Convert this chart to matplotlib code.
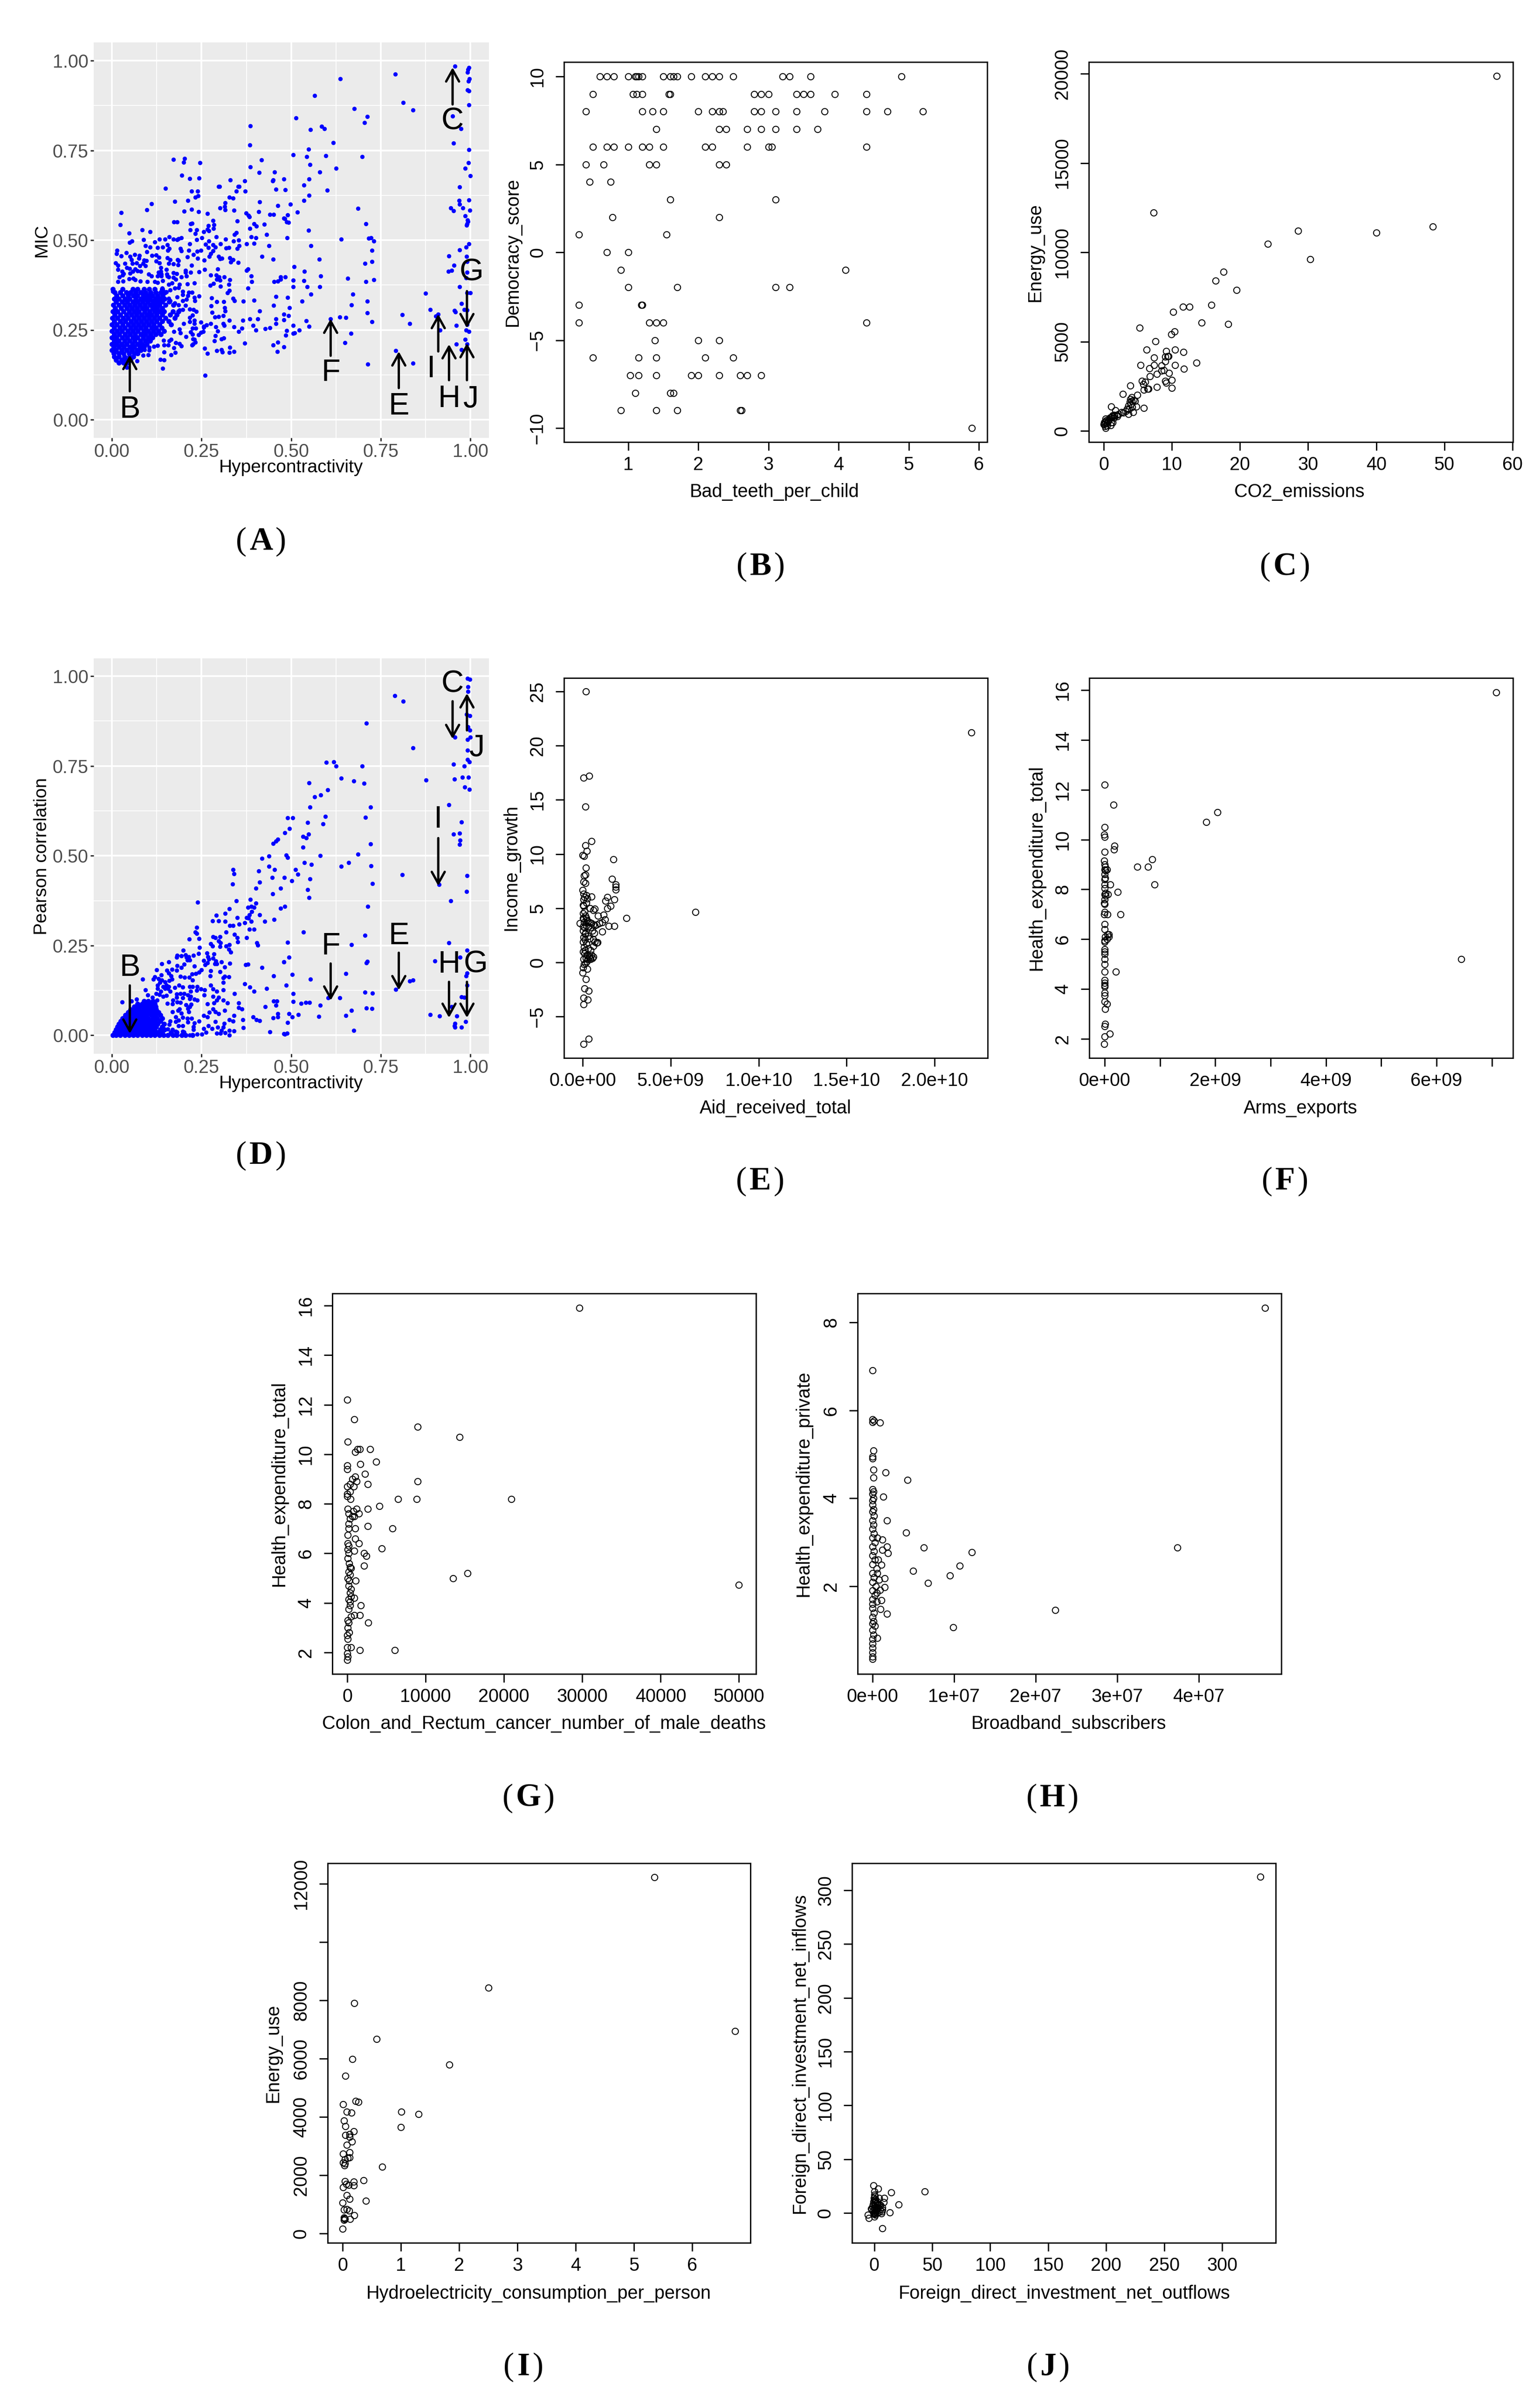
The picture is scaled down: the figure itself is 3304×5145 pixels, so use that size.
import matplotlib
matplotlib.use("Agg")
import matplotlib.pyplot as plt

plt.rcParams['font.family'] = ['Liberation Sans', 'DejaVu Sans']
W, H = 3305, 5145
PX = 72 / 100  # points per pixel at dpi 100

# ---------------- Panel A: Hypercontractivity vs MIC ----------------
a_upper = [(0.957,0.985),(0.995,0.98),(0.993,0.975),(0.991,0.967),(0.997,0.95),(0.994,0.943),(0.991,0.918),(0.996,0.915),
 (0.996,0.877),(0.95,0.845),(0.973,0.81),(0.953,0.77),(0.995,0.752),(0.994,0.716),(0.985,0.70),(0.999,0.679),(0.97,0.648),
 (0.968,0.61),(0.97,0.60),(0.978,0.59),(0.945,0.589),(0.952,0.582),(0.996,0.612),(0.998,0.583),(0.985,0.567),(0.992,0.556),
 (0.993,0.552),(0.99,0.545),(0.989,0.541),(0.996,0.49),(0.988,0.481),(0.97,0.473),(0.94,0.456),(0.989,0.454),(0.99,0.44),
 (0.954,0.43),(0.938,0.413),(0.948,0.415),(0.99,0.41),(0.988,0.395),(0.97,0.37),(0.99,0.353),(1.0,0.353),(0.975,0.323),
 (0.982,0.307),(0.99,0.305),(0.955,0.304),(0.958,0.30),(0.875,0.352),(0.888,0.307),(0.903,0.288),(0.91,0.293),(0.915,0.25),
 (0.96,0.262),(0.99,0.265),(0.988,0.25),(0.995,0.245),(0.985,0.223),(0.96,0.21),(0.99,0.21),(0.975,0.195),
 (0.79,0.962),(0.637,0.95),(0.565,0.903),(0.812,0.883),(0.84,0.862),(0.676,0.866),(0.712,0.844),(0.513,0.84),(0.704,0.827),
 (0.585,0.817),(0.592,0.81),(0.553,0.808),(0.386,0.818),(0.617,0.772),(0.385,0.765),(0.548,0.753),(0.506,0.738),(0.596,0.735),
 (0.543,0.733),(0.698,0.733),(0.417,0.724),(0.552,0.71),(0.386,0.704),(0.625,0.70),(0.58,0.69),(0.453,0.689),(0.411,0.688),
 (0.48,0.67),(0.45,0.667),(0.448,0.665),(0.55,0.67),(0.535,0.653),(0.483,0.64),(0.6,0.639),(0.55,0.625),(0.535,0.61),(0.498,0.6),
 (0.517,0.578),(0.686,0.588),(0.49,0.57),(0.482,0.56),(0.487,0.55),(0.492,0.549),(0.708,0.545),(0.548,0.527),(0.488,0.507),
 (0.716,0.505),(0.723,0.507),(0.64,0.502),(0.73,0.497),(0.555,0.484),(0.725,0.472),(0.578,0.447),(0.706,0.435),(0.725,0.44),
 (0.508,0.426),(0.537,0.413),(0.582,0.4),(0.483,0.397),(0.658,0.394),(0.73,0.39),(0.535,0.387),(0.505,0.388),(0.505,0.37),
 (0.545,0.37),(0.58,0.37),(0.708,0.385),(0.672,0.35),(0.555,0.35),(0.49,0.34),(0.53,0.33),(0.712,0.33),(0.668,0.32),(0.495,0.312),
 (0.493,0.29),(0.712,0.298),(0.61,0.28),(0.635,0.286),(0.652,0.285),(0.542,0.275),(0.725,0.273),(0.809,0.292),(0.83,0.268),
 (0.506,0.262),(0.55,0.26),(0.487,0.248),(0.522,0.25),(0.51,0.242),(0.505,0.24),(0.667,0.24),(0.485,0.235),(0.65,0.214),
 (0.791,0.192),(0.84,0.157),(0.713,0.155),(0.172,0.725),(0.203,0.727),(0.2,0.717),(0.245,0.715),(0.195,0.68),(0.217,0.672),
 (0.243,0.673),(0.30,0.65),(0.33,0.668),(0.355,0.649),(0.37,0.665)]

a_lower = [(0.15,0.644),(0.222,0.637),(0.239,0.637),(0.24,0.623),(0.233,0.62),(0.298,0.65),(0.352,0.65),(0.347,0.637),(0.372,0.636),
 (0.458,0.642),(0.328,0.619),(0.338,0.617),(0.212,0.611),(0.176,0.608),(0.412,0.607),(0.316,0.604),(0.11,0.601),(0.315,0.594),
 (0.462,0.596),(0.302,0.59),(0.316,0.584),(0.341,0.583),(0.097,0.585),(0.222,0.586),(0.201,0.581),(0.242,0.579),(0.026,0.577),
 (0.266,0.574),(0.409,0.579),(0.374,0.575),(0.381,0.569),(0.383,0.565),(0.44,0.572),(0.451,0.571),(0.479,0.561),(0.173,0.551),
 (0.182,0.55),(0.282,0.554),(0.349,0.553),(0.219,0.546),(0.224,0.547),(0.284,0.543),(0.023,0.543),(0.396,0.545),(0.403,0.539),
 (0.425,0.544),(0.269,0.54),(0.283,0.533),(0.385,0.532),(0.266,0.53),(0.27,0.526),(0.084,0.529),(0.218,0.528),(0.237,0.528),
 (0.256,0.523),(0.106,0.523),(0.048,0.52),(0.232,0.518),(0.347,0.521),(0.342,0.516),(0.431,0.515),(0.388,0.509),(0.401,0.507),
 (0.16,0.509),(0.194,0.507),(0.186,0.504),(0.171,0.502),(0.182,0.501),(0.251,0.506),(0.291,0.509),(0.317,0.503),(0.132,0.502),
 (0.148,0.503),(0.088,0.501),(0.237,0.501),(0.27,0.498),(0.339,0.497),(0.354,0.5),(0.05,0.494),(0.056,0.497),(0.12,0.495),
 (0.375,0.49),(0.397,0.491),(0.217,0.489),(0.261,0.488),(0.303,0.489),(0.282,0.487),(0.355,0.485),(0.438,0.484),(0.154,0.487),
 (0.142,0.481),(0.093,0.484),(0.106,0.48),(0.128,0.479),(0.269,0.479),(0.288,0.481),(0.318,0.478),(0.326,0.479),(0.349,0.477),
 (0.16,0.477),(0.156,0.472),(0.191,0.476),(0.193,0.47),(0.215,0.472),(0.238,0.469),(0.248,0.471),(0.282,0.47),(0.098,0.468),
 (0.014,0.472),(0.013,0.462),(0.04,0.465),(0.064,0.46),(0.227,0.46),(0.275,0.462),(0.026,0.456),(0.051,0.455),(0.077,0.457),
 (0.112,0.457),(0.124,0.458),(0.131,0.452),(0.211,0.453),(0.271,0.455),(0.297,0.454),(0.329,0.451),(0.419,0.454),(0.154,0.451),
 (0.162,0.446),(0.239,0.449),(0.301,0.448),(0.307,0.449),(0.338,0.446),(0.449,0.447),(0.075,0.449),(0.257,0.444),(0.183,0.445),
 (0.186,0.443),(0.09,0.444),(0.096,0.443),(0.055,0.446),(0.123,0.441),(0.133,0.437),(0.01,0.437),(0.036,0.435),(0.331,0.439),
 (0.352,0.438),(0.159,0.435),(0.172,0.434),(0.057,0.435),(0.069,0.437),(0.087,0.435),(0.017,0.43),(0.184,0.431),(0.222,0.43),
 (0.093,0.428),(0.078,0.429),(0.136,0.424),(0.041,0.423),(0.05,0.421),(0.065,0.42),(0.152,0.418),(0.295,0.419),(0.258,0.418),
 (0.376,0.416),(0.379,0.419),(0.017,0.418),(0.136,0.413),(0.205,0.416),(0.205,0.411),(0.22,0.411),(0.243,0.412),(0.058,0.413),
 (0.071,0.414),(0.081,0.413),(0.028,0.413),(0.172,0.409),(0.18,0.406),(0.032,0.407),(0.051,0.408),(0.13,0.41),(0.138,0.405),
 (0.153,0.405),(0.103,0.405),(0.275,0.402),(0.291,0.403),(0.388,0.4),(0.111,0.4),(0.127,0.4),(0.138,0.4),(0.154,0.4),(0.158,0.398),
 (0.193,0.398),(0.208,0.4),(0.03,0.403),(0.021,0.397),(0.299,0.397),(0.313,0.398),(0.471,0.397),(0.172,0.396),(0.178,0.391),
 (0.048,0.392),(0.06,0.393),(0.065,0.39),(0.292,0.391),(0.302,0.388),(0.329,0.39),(0.47,0.391),(0.463,0.386),(0.452,0.384),
 (0.39,0.384),(0.142,0.387),(0.031,0.386),(0.017,0.385),(0.079,0.386),(0.099,0.384),(0.12,0.384),(0.128,0.382),(0.211,0.378),
 (0.23,0.381),(0.168,0.381),(0.159,0.377),(0.188,0.377),(0.283,0.379),(0.274,0.374),(0.326,0.376),(0.303,0.372),(0.175,0.366),
 (0.186,0.368),(0.38,0.366),(0.328,0.36),(0.322,0.353),(0.002,0.364),(0.002,0.357),(0.162,0.361),(0.141,0.366),(0.152,0.356),
 (0.198,0.357),(0.198,0.348),(0.214,0.354),(0.223,0.354),(0.212,0.345),(0.243,0.344),(0.182,0.342),(0.278,0.339),(0.338,0.338),
 (0.342,0.331),(0.457,0.343),(0.397,0.333),(0.367,0.33),(0.292,0.328),(0.312,0.329),(0.23,0.34),(0.231,0.331),(0.208,0.335),
 (0.197,0.331),(0.159,0.338),(0.162,0.331),(0.175,0.325),(0.186,0.32),(0.205,0.318),(0.451,0.318),(0.277,0.317),(0.315,0.312),
 (0.316,0.303),(0.412,0.302),(0.28,0.299),(0.217,0.308),(0.227,0.307),(0.197,0.306),(0.188,0.305),(0.235,0.301),(0.479,0.294),
 (0.311,0.289),(0.287,0.286),(0.297,0.287),(0.225,0.291),(0.217,0.285),(0.457,0.281),(0.407,0.281),(0.385,0.28),(0.328,0.276),
 (0.365,0.276),(0.48,0.278),(0.23,0.277),(0.23,0.267),(0.248,0.272),(0.217,0.273),(0.2,0.268),(0.276,0.267),(0.264,0.264),
 (0.256,0.26),(0.256,0.257),(0.311,0.268),(0.313,0.262),(0.458,0.267),(0.394,0.262),(0.29,0.259),(0.341,0.259),(0.402,0.249),
 (0.363,0.254),(0.353,0.245),(0.428,0.253),(0.441,0.256),(0.225,0.254),(0.234,0.254),(0.295,0.247),(0.173,0.246),(0.188,0.252),
 (0.191,0.242),(0.22,0.244),(0.225,0.238),(0.255,0.245),(0.248,0.243),(0.242,0.236),(0.289,0.234),(0.206,0.231),(0.305,0.225),
 (0.312,0.227),(0.286,0.22),(0.23,0.223),(0.226,0.225),(0.232,0.216),(0.226,0.21),(0.223,0.208),(0.37,0.213),(0.462,0.216),
 (0.45,0.208),(0.48,0.203),(0.165,0.223),(0.16,0.22),(0.144,0.221),(0.178,0.214),(0.188,0.212),(0.194,0.205),(0.157,0.208),
 (0.145,0.208),(0.128,0.206),(0.117,0.204),(0.104,0.201),(0.173,0.2),(0.329,0.201),(0.259,0.199),(0.177,0.187),(0.165,0.181),
 (0.145,0.188),(0.266,0.185),(0.292,0.192),(0.305,0.195),(0.308,0.188),(0.328,0.187),(0.34,0.189),(0.461,0.189),(0.091,0.195),
 (0.104,0.194),(0.087,0.179),(0.101,0.18),(0.073,0.184),(0.135,0.167),(0.145,0.166),(0.142,0.143),(0.07,0.163),(0.042,0.146),
 (0.26,0.123)]

a_blob_rows = [
 (.364,[.003,.03,.058,.072,.09,.104,.12,.14]),
 (.355,[.008,.024,.04,.052,.066,.08,.093,.108,.122,.136,.148]),
 (.346,[.013,.03,.046,.06,.072,.087,.1,.113,.128,.142]),
 (.337,[.006,.02,.036,.05,.066,.08,.094,.106,.121,.134,.147]),
 (.328,[.012,.028,.043,.058,.071,.086,.1,.114,.127,.14,.16]),
 (.319,[.004,.019,.035,.05,.064,.078,.092,.107,.119,.133,.15,.172]),
 (.310,[.009,.026,.041,.056,.07,.085,.098,.113,.126,.14]),
 (.301,[.002,.016,.033,.048,.063,.076,.091,.105,.12,.132,.146,.17,.186]),
 (.292,[.008,.024,.04,.054,.069,.083,.097,.111,.125,.14,.163,.18]),
 (.283,[.001,.015,.031,.046,.061,.075,.09,.104,.118,.133,.15,.175]),
 (.274,[.007,.023,.038,.053,.067,.082,.096,.11,.125,.14,.158]),
 (.265,[.0,.014,.03,.045,.06,.074,.089,.103,.117,.132,.165]),
 (.256,[.006,.022,.037,.052,.066,.081,.095,.11,.124,.139]),
 (.247,[.0,.014,.029,.044,.059,.073,.088,.102,.116,.13,.145]),
 (.238,[.006,.021,.036,.051,.065,.08,.094,.108,.122,.136]),
 (.229,[.0,.013,.028,.043,.058,.072,.087,.101,.113]),
 (.220,[.006,.02,.035,.05,.064,.079,.093,.107]),
 (.211,[.0,.013,.027,.042,.057,.071,.085,.098]),
 (.202,[.005,.02,.034,.049,.063,.078,.09]),
 (.193,[.0,.012,.027,.041,.056,.07,.08]),
 (.184,[.005,.019,.033,.048,.062,.072]),
 (.175,[.007,.02,.035,.05,.06]),
 (.166,[.012,.027,.04,.052]),
 (.158,[.02,.032,.043]),
]

# ---------------- Panel D: Hypercontractivity vs Pearson ----------------
d_upper = [(.789,.946),(.812,.93),(.992,.994),(.998,.991),(.993,.97),(.993,.957),(.989,.894),(.998,.89),(.993,.859),(.998,.849),
 (.992,.824),(.999,.83),(.957,.83),(.84,.8),(.992,.794),(.992,.768),(.997,.761),(.71,.869),(.598,.76),(.618,.761),(.625,.75),
 (.953,.755),(.983,.749),(.698,.749),(.64,.716),(.675,.708),(.703,.702),(.876,.71),(.955,.713),(.977,.718),(.994,.718),(.984,.691),
 (.997,.685),(.55,.703),(.602,.683),(.565,.664),(.582,.669),(.552,.635),(.721,.635),(.939,.642),(.707,.607),(.595,.609),(.49,.605),
 (.504,.605),(.546,.592),(.589,.588),(.975,.594),(.495,.575),(.482,.564),(.549,.56),(.533,.553),(.542,.55),(.953,.56),(.969,.563),
 (.462,.546),(.457,.54),(.449,.534),(.721,.533),(.971,.543),(.97,.532),(.533,.524),(.486,.502),(.49,.495),(.581,.5),(.686,.504),
 (.438,.499),(.418,.492),(.537,.481),(.66,.481),(.556,.476),(.639,.47),(.723,.472),(.512,.462),(.518,.449),(.809,.447),(.99,.445),
 (.481,.439),(.552,.435),(.502,.43),(.727,.423),(.912,.42),(.546,.405),(.989,.401),(.55,.383),(.945,.375),(.482,.359),(.714,.359),
 (.534,.288),(.706,.278),(.49,.259),(.668,.253),(.939,.258),(.99,.237),(.494,.218),(.48,.205),(.971,.218),(.901,.207),(.712,.206),
 (.71,.202),(.503,.17),(.554,.156),(.652,.172),(.988,.166),(.99,.173),(.839,.154),(.831,.151),(.486,.14),(.99,.139),(.791,.128),
 (.706,.12),(.727,.118),(.506,.116),(.603,.104),(.636,.104),(.975,.107),(.983,.106),(.506,.094),(.528,.089),(.54,.091),(.551,.092),
 (.581,.084),(.71,.076),(.725,.074),(.668,.069),(.947,.08),(.494,.06),(.52,.058),(.503,.051),(.577,.053),(.652,.055),(.887,.058),
 (.914,.054),(.962,.054),(.49,.036),(.986,.038),(.957,.033),(.955,.027),(.957,.023),(.975,.023),(.674,.014),(.482,.003),(.489,.006)]

d_lower = [(.239,.371),(.338,.462),(.340,.450),(.337,.421),(.409,.458),(.438,.470),(.454,.462),(.447,.439),(.412,.426),(.401,.410),
 (.471,.410),(.448,.394),(.347,.375),(.386,.378),(.401,.368),(.380,.356),(.388,.359),(.397,.356),(.471,.354),(.327,.352),(.316,.340),
 (.291,.334),(.390,.345),(.412,.336),(.383,.336),(.375,.328),(.381,.327),(.349,.328),(.452,.323),(.426,.317),(.388,.317),(.281,.318),
 (.297,.319),(.316,.317),(.371,.314),(.355,.310),(.329,.306),(.338,.305),(.384,.295),(.397,.295),(.237,.301),(.232,.287),(.237,.284),
 (.318,.288),(.342,.281),(.216,.268),(.243,.269),(.282,.274),(.288,.272),(.301,.274),(.349,.272),(.375,.272),(.298,.263),(.303,.257),
 (.351,.26),(.404,.258),(.407,.251),(.276,.255),(.281,.248),(.302,.247),(.318,.248),(.328,.253),(.326,.24),(.331,.232),(.244,.244),
 (.199,.237),(.242,.228),(.265,.229),(.285,.226),(.268,.219),(.27,.212),(.282,.215),(.182,.223),(.18,.217),(.194,.221),(.205,.224),
 (.208,.217),(.214,.219),(.227,.222),(.21,.21),(.217,.209),(.159,.205),(.139,.199),(.256,.208),(.26,.196),(.266,.202),(.29,.207),
 (.287,.199),(.293,.199),(.305,.205),(.329,.201),(.373,.196),(.38,.198),(.419,.189),(.479,.205),(.182,.194),(.201,.198),(.193,.189),
 (.23,.193),(.315,.19),(.125,.182),(.153,.181),(.167,.184),(.18,.181),(.275,.18),(.302,.177),(.25,.182),(.243,.176),(.234,.172),
 (.223,.171),(.158,.173),(.138,.168),(.165,.166),(.191,.164),(.203,.161),(.216,.162),(.274,.166),(.326,.163),(.314,.164),(.311,.16),
 (.451,.166),(.086,.156),(.116,.157),(.119,.163),(.13,.158),(.139,.154),(.167,.156),(.16,.152),(.225,.154),(.311,.147),(.37,.144),
 (.385,.134),(.397,.123),(.431,.131),(.134,.147),(.148,.148),(.128,.139),(.128,.131),(.152,.139),(.158,.135),(.143,.135),(.148,.13),
 (.156,.13),(.187,.14),(.176,.133),(.198,.134),(.217,.136),(.225,.136),(.238,.135),(.236,.125),(.248,.129),(.259,.126),(.276,.139),
 (.282,.129),(.292,.122),(.311,.127),(.22,.123),(.093,.126),(.136,.122),(.162,.122),(.342,.116),(.1,.112),(.123,.116),(.132,.113),
 (.152,.111),(.143,.109),(.18,.115),(.191,.116),(.201,.116),(.212,.112),(.219,.109),(.257,.112),(.282,.109),(.297,.106),(.18,.106),
 (.198,.104),(.217,.102),(.23,.101),(.238,.098),(.113,.106),(.069,.1),(.028,.093),(.055,.095),(.126,.098),(.292,.098),(.311,.098),
 (.451,.096),(.46,.096),(.17,.098),(.182,.093),(.191,.091),(.322,.09),(.354,.09),(.285,.09),(.266,.088),(.154,.089),(.169,.087),
 (.457,.084),(.221,.086),(.206,.085),(.217,.08),(.353,.077),(.363,.073),(.428,.08),(.314,.07),(.212,.074),(.188,.073),(.215,.066),
 (.184,.069),(.282,.073),(.288,.066),(.271,.064),(.298,.06),(.169,.065),(.194,.061),(.462,.06),(.341,.055),(.394,.051),(.403,.044),
 (.412,.041),(.45,.049),(.462,.051),(.256,.055),(.266,.051),(.198,.05),(.178,.051),(.21,.047),(.222,.047),(.328,.043),(.338,.04),
 (.365,.044),(.243,.039),(.289,.038),(.313,.033),(.186,.042),(.162,.039),(.178,.038),(.212,.037),(.23,.035),(.367,.022),(.269,.026),
 (.295,.023),(.31,.023),(.279,.019),(.256,.019),(.197,.027),(.186,.026),(.227,.024),(.227,.016),(.327,.014),(.34,.012),(.441,.01),
 (.479,.005),(.305,.014),(.303,.006),(.292,.006),(.316,.007),(.328,.001),(.262,.008),(.238,.003),(.251,.003),(.217,.001),(.197,.011),
 (.178,.011),(.16,.03),(.156,.018),(.169,.016)]

d_blob_rows = [
 (.000,[.002,.012,.024,.036,.048,.06,.072,.084,.096,.108,.12,.132,.144,.156,.17,.18,.195,.205,.225]),
 (.008,[.008,.02,.032,.044,.056,.068,.08,.092,.104,.116,.128,.14,.165,.18,.2]),
 (.016,[.012,.024,.036,.048,.06,.072,.084,.096,.108,.12,.135,.147]),
 (.024,[.015,.027,.039,.051,.063,.075,.087,.099,.111,.123,.14]),
 (.032,[.02,.032,.044,.056,.068,.08,.092,.104,.116,.128,.145]),
 (.040,[.025,.037,.049,.061,.073,.085,.097,.109,.121,.135]),
 (.048,[.03,.042,.054,.066,.078,.09,.102,.114,.126,.14]),
 (.056,[.038,.05,.062,.074,.086,.098,.11,.122,.135]),
 (.064,[.045,.057,.069,.081,.093,.105,.117,.13]),
 (.072,[.052,.064,.076,.088,.1,.112,.124]),
 (.080,[.062,.074,.086,.098,.11,.122]),
 (.088,[.072,.084,.096,.108,.12]),
 (.096,[.09,.102,.114]),
]

# ---------------- R-style panels ----------------
b_rows = [
 (10,[.6,.7,.8,1,1.1,1.12,1.15,1.2,1.5,1.6,1.65,1.7,1.9,2.1,2.2,2.3,2.5,3.2,3.3,3.6,4.9]),
 (9,[.5,1.07,1.12,1.2,1.58,1.6,2.8,2.9,3,3.4,3.5,3.6,3.95,4.4]),
 (8,[.4,1.2,1.35,1.5,2,2.2,2.3,2.35,2.8,2.9,3.1,3.4,3.8,4.4,4.7,5.2]),
 (7,[1.4,2.3,2.4,2.7,2.9,3.1,3.4,3.7]),
 (6,[.5,.7,.8,1,1.2,1.3,1.5,2.1,2.2,2.7,3,3.05,4.4]),
 (5,[.4,.65,1.3,1.4,2.3,2.4]),
 (4,[.45,.75]),(3,[1.6,3.1]),(2,[.78,2.3]),(1,[.3,1.55]),(0,[.7,1]),(-1,[.9,4.1]),
 (-2,[1,1.7,3.1,3.3]),(-3,[.3,1.19,1.2]),(-4,[.3,1.3,1.4,1.5,4.4]),(-5,[1.38,2,2.3]),
 (-6,[.5,1.15,1.4,2.1,2.5]),(-7,[1.03,1.15,1.4,1.9,2,2.3,2.6,2.7,2.9]),(-8,[1.1,1.6,1.65]),
 (-9,[.9,1.4,1.7,2.6,2.62]),(-10,[5.9])]
b_x = [x for y, xs in b_rows for x in xs]
b_y = [y for y, xs in b_rows for x in xs]

c_points = [(57.7,19880),(7.3,12220),(48.3,11430),(28.5,11200),(40,11100),(24.1,10460),(30.3,9600),(17.6,8900),(16.4,8420),(19.5,7880),
 (10.2,6670),(11.6,6950),(12.6,6940),(15.8,7060),(14.4,6070),(18.3,5990),(5.3,5780),(10.4,5570),(9.9,5410),(7.6,5020),(6.3,4540),
 (10.5,4540),(11.7,4420),(9.2,4460),(9.5,4170),(9.4,4170),(7.4,4110),(9,4150),(9,3880),(13.6,3800),(10.5,3690),(5.4,3670),(7.4,3670),
 (8.5,3650),(6.7,3510),(11.8,3470),(8.5,3380),(8.8,3400),(9.6,3240),(7.8,3180),(6.8,3050),(10,2850),(9,2790),(9.2,2700),(5.6,2790),
 (6.1,2750),(5.8,2620),(3.9,2520),(7.8,2460),(10,2390),(6.4,2350),(6.6,2350),(5.9,2290),(4.9,2020),(2.8,2060),(4.1,1880),(3.9,1780),
 (4.6,1670),(3.8,1610),(4.1,1670),(3.6,1420),(4.8,1360),(5.9,1280),(1.1,1360),(4.2,1340),(3.2,1090),(4.3,1050),(3.6,930),(1.7,1160),
 (2.6,1050),(2.2,950),(1.9,890),(1.5,880),(1.3,850),(1.5,740),(.9,720),(.3,680),(.7,580),(1.1,470),(1.3,470),(.1,470),(.5,410),(1,310),
 (.2,270),(.3,165),(0,370),(.2,520),(.4,600),(.6,510),(.8,640),(1,760),(1.2,800),(1.6,830),(2,820),(.1,360),(.3,430),(.5,300),(2.9,1020),
 (3.7,1200),(4,1500),(4.4,1720),(3.4,1240)]

e_points = [(22.1,21.2),(.19,25),(.38,17.2),(.04,17.05),(.15,14.35),(.5,11.2),(.15,10.8),(.23,10.3),(.08,9.8),(0,9.9),(1.75,9.5),(.19,8.75),
 (1.68,7.7),(.15,8.1),(.08,8),(.15,7.3),(.04,7.45),(1.87,7.2),(1.87,6.95),(1.87,6.7),(0,6.65),(.04,6.3),(.2,6.2),(.5,6.05),(1.4,6),(1.8,5.8),
 (1.3,5.67),(.04,5.8),(1.6,5.2),(1.4,5),(.2,5.5),(.42,5),(.6,4.8),(6.4,4.62),(2.48,4.1),(1.18,4.4),(.88,4.3),(1.26,3.96),(1.1,3.7),(1.48,3.36),
 (1.8,3.33),(.8,3.5),(-.15,3.6),(1.1,2.84),(.8,1.8),(.6,1.5),(.6,.53),(.42,.43),(.27,-.63),(0,-.96),(.19,-1.55),(.1,-2.4),(.34,-2.64),(.04,-3.27),
 (.3,-3.43),(.04,-3.9),(.34,-7.06),(.04,-7.55),
 (.02,5.3),(.06,5.2),(.1,4.7),(.03,4.5),(.15,4.3),(.2,4.1),(.05,4),(.25,3.9),(.3,3.8),(.08,3.7),(.4,3.7),(.5,3.6),(.6,3.5),(.7,3.4),(.22,3.4),
 (.35,3.3),(.45,3.2),(.1,3.2),(.55,2.9),(.65,2.7),(.02,2.9),(.16,2.7),(.28,2.4),(.05,2.3),(.12,2.1),(.4,2.2),(.6,2.1),(.03,1.9),(.2,1.7),
 (.08,1.4),(.14,1.1),(.32,1.3),(.44,1.1),(.02,1.0),(.1,.8),(.25,.7),(.36,.6),(.5,.7),(.55,.4),(.18,.4),(.04,.3),(.3,.3),(.08,-.2),(.16,-.1),(.02,-.5),
 (.25,.1),(.45,.3),(.02,3.3),(.12,2.6),(.7,1.9),(.85,1.85),(.95,3.6),(.68,4.95),(.02,4.1),(.1,6),(.26,5.9)]

f_points = [(7.08,15.9),(6.45,5.2),(0,12.2),(.16,11.4),(2.04,11.1),(1.84,10.7),(0,10.5),(-.01,10.2),(0,10.1),(.18,9.75),(.17,9.6),(0,9.5),(.86,9.2),
 (-.01,9.15),(.59,8.9),(.78,8.9),(0,9),(.01,8.9),(0,8.8),(.04,8.8),(.02,8.75),(0,8.6),(.01,8.45),(.9,8.2),(.1,8.2),(0,8.4),(0,8.2),(0,8.05),(.24,7.9),
 (.02,7.85),(.06,7.8),(0,7.8),(.02,7.75),(0,7.6),(-.01,7.45),(0,7.4),(.29,7),(.05,7),(0,7.1),(-.01,7),(0,6.6),(0,6.4),(.08,6.2),(.05,6.2),(.08,6.1),
 (.01,6.1),(.04,6),(0,5.95),(0,5.9),(0,5.6),(0,5.5),(0,5.4),(0,5.2),(0,5),(0,4.7),(.2,4.7),(0,4.35),(0,4.25),(0,4.15),(0,4.1),(0,3.85),(0,3.75),(0,3.5),
 (.04,3.4),(.01,3.2),(.01,2.6),(0,2.5),(.09,2.2),(0,2.1),(-.01,1.8)]

g_points = [(29630,15.9),(50000,4.72),(0,12.2),(900,11.4),(9000,11.1),(14360,10.7),(80,10.5),(2900,10.2),(1600,10.2),(1300,10.2),(1000,10.1),(3670,9.7),
 (1670,9.6),(0,9.55),(0,9.4),(2250,9.2),(1000,9.1),(9000,8.9),(1170,8.9),(670,9),(330,8.8),(2590,8.8),(830,8.7),(0,8.7),(330,8.5),(0,8.4),(0,8.3),(6500,8.2),
 (8850,8.2),(20950,8.2),(400,8.2),(4090,7.9),(2590,7.8),(1170,7.8),(750,7.7),(80,7.8),(1500,7.6),(170,7.6),(670,7.5),(920,7.5),(330,7.4),(2590,7.1),(1000,7),
 (5760,7),(170,7.2),(170,7),(80,6.75),(1000,6.6),(1500,6.4),(80,6.4),(170,6.3),(80,6.15),(4420,6.2),(2170,6),(2420,5.9),(920,6.1),(170,6),(80,5.8),(2170,5.5),
 (250,5.6),(330,5.45),(500,5.4),(170,5.25),(13500,5),(15360,5.2),(330,5.15),(80,5),(250,4.9),(1080,4.9),(170,4.7),(500,4.55),(330,4.4),(920,4.2),(500,4.25),
 (170,4.15),(330,4.05),(1750,3.9),(330,3.9),(170,3.75),(1590,3.5),(920,3.5),(500,3.45),(80,3.3),(2670,3.2),(170,3.2),(80,3),(250,2.8),(0,2.7),(80,2.55),(500,2.2),
 (0,2.2),(1590,2.1),(6090,2.1),(0,1.97),(80,1.83),(0,1.7)]

h_points = [(4.81,8.33),(0,6.91),(3.74,2.88),(2.24,1.46),(.99,1.07),(1.22,2.77),(1.07,2.47),(.95,2.24),(.68,2.07),(.63,2.88),(.5,2.35),(.41,3.22),(.43,4.42),(.16,4.59),
 (.13,4.04),(.18,3.49),(.09,5.72),(0,5.79),(.02,5.76),(0,5.73),(.01,5.08),(0,4.95),(0,4.9),(.01,4.65),(.01,4.47),(.12,3.06),(.06,3.1),(.18,2.9),(.12,2.83),(.19,2.75),
 (.11,2.49),(.15,2.18),(.15,1.98),(.09,1.91),(.11,1.68),(.1,1.48),(.18,1.37),(.06,.82),
 (0,4.2),(.01,4.15),(0,4.1),(.01,4),(0,3.95),(0,3.85),(.01,3.75),(0,3.7),(.02,3.6),(0,3.5),(.01,3.4),(0,3.3),(.02,3.2),(0,3.1),(.03,3),(0,2.9),(.02,2.8),(0,2.7),(.03,2.6),
 (0,2.5),(.05,2.4),(0,2.3),(.06,2.3),(.02,2.2),(0,2.1),(.04,2),(0,1.9),(.03,1.8),(0,1.7),(.05,1.65),(0,1.6),(0,1.5),(.02,1.4),(0,1.3),(.01,1.2),(0,1.15),(.03,1.1),(0,1),
 (.01,.9),(0,.8),(0,.7),(0,.6),(0,.5),(0,.4),(0,.35),(.07,2.6),(.08,2.15),(.05,1.85)]

i_points = [(5.35,12230),(2.5,8430),(.2,7900),(6.73,6950),(.58,6670),(.17,5990),(1.83,5790),(.05,5410),(.22,4550),(.27,4510),(.01,4440),(1.01,4170),(.07,4180),(.15,4150),
 (1.3,4100),(.02,3880),(1,3650),(.05,3680),(.19,3500),(.05,3380),(.12,3410),(.12,3320),(.16,3160),(.07,3040),(.12,2790),(.01,2730),(.12,2610),(.09,2590),(.04,2550),(.01,2430),
 (.04,2400),(.03,2330),(.68,2290),(.36,1820),(.04,1790),(.19,1770),(.06,1700),(.19,1650),(.01,1590),(.1,1670),(.07,1320),(.12,1180),(.4,1120),(0,1060),(.02,820),(.07,830),
 (.11,790),(.2,630),(.02,550),(.04,500),(.02,470),(.03,520),(.13,500),(0,160)]

j_points = [(332.8,312.5),(43.4,19.8),(14.7,19.2),(20.9,7.9),(13.5,.3),(6.8,-14.5),(-.5,25.4),(3.4,22.5),(0,19.8),(8.5,13.9),(4,13.9),(8,9.9),(-5.6,-1.6),(-4.5,-4.6),(0,-3.6),
 (1,-1.6),(-2.2,3.3),(0,17),(.5,15.5),(-.3,14),(1,13),(.2,12),(1.5,11),(-.5,10.5),(.5,9.5),(2,9),(-1,8),(.8,7.5),(2.5,7),(0,6.5),(-1.5,6),(1.2,5.5),(3.5,5),(0,4.5),(-2.5,4),
 (1.5,3.5),(5,4),(7,5),(0,3),(2,2.5),(-1,2),(.7,1.5),(4,1),(6.5,1.5),(.3,.5),(-.5,0),(1,-.5),(2.5,0),(6,-.5),(0,-1),(7,3),(5.5,7.5),(3,10.5),(4,8)]

# annotation letters in data units: (letter, text_x, text_y, arrow_x, arrow_from_y, arrow_to_y)
a_labels = [("B",.05,.027,.05,.079,.18),("C",.95,.83,.95,.878,.981),("E",.80,.037,.80,.088,.19),("F",.61,.13,.61,.178,.281),
            ("G",1.003,.41,.99,.358,.255),("H",.94,.057,.94,.11,.21),("I",.89,.14,.91,.19,.294),("J",1.0,.057,.99,.11,.213)]
d_labels = [("B",.05,.188,.05,.139,.005),("C",.95,.977,.95,.93,.825),("E",.80,.276,.80,.23,.126),("F",.61,.247,.61,.2,.097),
            ("G",1.015,.197,.99,.149,.049),("H",.94,.197,.94,.149,.049),("I",.91,.6,.91,.549,.416),("J",1.017,.8,.99,.849,.952)]

gg_major = [0, .25, .5, .75, 1]
gg_minor = [.125, .375, .625, .875]
gg_labels = ["0.00", "0.25", "0.50", "0.75", "1.00"]

fig = plt.figure(figsize=(W / 100, H / 100), dpi=100, facecolor='white')

def make_axes(l, r, t, b):
    return fig.add_axes([l / W, 1 - b / H, (r - l) / W, (b - t) / H])

def set_scale(ax, l, r, t, b, xa, xav, xb, xbv, ya, yav, yb, ybv):
    fx = lambda p: xav + (p - xa) * (xbv - xav) / (xb - xa)
    fy = lambda p: yav + (p - ya) * (ybv - yav) / (yb - ya)
    ax.set_xlim(fx(l), fx(r))
    ax.set_ylim(fy(b), fy(t))

def fig_text(px, py, s, **kw):
    fig.text(px / W, 1 - py / H, s, ha='center', va='center', **kw)

def gg_panel(t, b, y1, y0, pts_lists, rows, labels, ylabel, xlab_y):
    ax = make_axes(201, 1049, t, b)
    set_scale(ax, 201, 1049, t, b, 240, 0, 1009.5, 1, y0, 0, y1, 1)
    ax.set_facecolor('#EBEBEB')
    for s in ax.spines.values():
        s.set_visible(False)
    ax.set_axisbelow(True)
    ax.set_xticks(gg_major); ax.set_yticks(gg_major)
    ax.set_xticklabels(gg_labels); ax.set_yticklabels(gg_labels)
    ax.set_xticks(gg_minor, minor=True); ax.set_yticks(gg_minor, minor=True)
    ax.grid(True, which='major', color='white', lw=3.6 * PX)
    ax.grid(True, which='minor', color='white', lw=1.7 * PX)
    ax.tick_params(which='major', length=7 * PX, width=3 * PX, color='#333333',
                   labelcolor='#4D4D4D', labelsize=28.5, pad=3)
    ax.tick_params(which='minor', length=0)
    xs = [p[0] for L in pts_lists for p in L]
    ys = [p[1] for L in pts_lists for p in L]
    ax.scatter(xs, ys, s=(9.3 * PX) ** 2, color='#0000FF', linewidths=0, zorder=3, clip_on=False)
    bx = [x for y, row in rows for x in row]
    by = [y for y, row in rows for x in row]
    ax.scatter(bx, by, s=(11 * PX) ** 2, color='#0000FF', linewidths=0, zorder=3, clip_on=False)
    for name, tx, ty, ax_x, y_from, y_to in labels:
        ax.annotate("", xy=(ax_x, y_to), xytext=(ax_x, y_from), zorder=5,
                    arrowprops=dict(arrowstyle="->,head_length=18,head_width=10", mutation_scale=1,
                                    lw=5 * PX, color='black', shrinkA=0, shrinkB=0))
        ax.text(tx, ty, name, fontsize=48, color='black', ha='center', va='center', zorder=6, clip_on=False)
    fig_text(90, (t + b) / 2, ylabel, rotation=90, fontsize=28, color='black')
    fig_text(624, xlab_y, "Hypercontractivity", fontsize=28, color='black')
    return ax

gg_panel(91, 939, 130, 900, [a_upper, a_lower], a_blob_rows, a_labels, "MIC", 1003)
gg_panel(1412, 2260, 1450, 2220.5, [d_upper, d_lower], d_blob_rows, d_labels, "Pearson correlation", 2324)

def r_panel(box, cal, x, y, xticks, xticklabels, yticks, yticklabels, xlabel, ylabel, xlab_px, ylab_px):
    l, r, t, b = box
    ax = make_axes(l, r, t, b)
    set_scale(ax, l, r, t, b, *cal)
    ax.plot(x, y, ls='none', marker='o', ms=13.5 * PX, mfc='none', mec='black', mew=2 * PX, clip_on=False)
    for s in ax.spines.values():
        s.set_linewidth(2.8 * PX)
    ax.set_xticks(xticks); ax.set_xticklabels(xticklabels)
    ax.set_yticks(yticks); ax.set_yticklabels(yticklabels, rotation=90, va='center')
    ax.tick_params(axis='both', length=18 * PX, width=2.8 * PX, labelsize=28.5, color='black')
    ax.tick_params(axis='x', pad=12 * PX)
    ax.tick_params(axis='y', pad=20 * PX)
    fig_text(xlab_px[0], xlab_px[1], xlabel, fontsize=28.5)
    fig_text(ylab_px[0], ylab_px[1], ylabel, rotation=90, fontsize=28.5)
    return ax

def xy(points):
    return [p[0] for p in points], [p[1] for p in points]

b_yt = [-10, -5, 0, 5, 10]
r_panel((1210, 2118, 133, 948), (1347.5, 1, 2100, 6, 918, -10, 164, 10), b_x, b_y,
        [1, 2, 3, 4, 5, 6], ["1", "2", "3", "4", "5", "6"], b_yt, ["\u221210", "\u22125", "0", "5", "10"],
        "Bad_teeth_per_child", "Democracy_score", (1662, 1055), (1100, 541))

x, y = xy(c_points)
r_panel((2336, 3246, 133, 948), (2368, 0, 3245, 60, 924, 0, 158, 20000), x, y,
        [0, 10, 20, 30, 40, 50, 60], ["0", "10", "20", "30", "40", "50", "60"],
        [0, 5000, 10000, 15000, 20000], ["0", "5000", "10000", "15000", "20000"],
        "CO2_emissions", "Energy_use", (2788, 1055), (2221, 541))

x, y = xy(e_points)
r_panel((1210, 2119, 1454, 2269), (1250, 0, 2005, 20, 2180, -5, 1483, 25), x, y,
        [0, 5, 10, 15, 20], ["0.0e+00", "5.0e+09", "1.0e+10", "1.5e+10", "2.0e+10"],
        [-5, 0, 5, 10, 15, 20, 25], ["\u22125", "0", "5", "10", "15", "20", "25"],
        "Aid_received_total", "Income_growth", (1664, 2377), (1096, 1861))

x, y = xy(f_points)
r_panel((2337, 3246, 1454, 2269), (2370, 0, 3082, 6, 2228, 2, 1480, 16), x, y,
        [0, 1, 2, 3, 4, 5, 6, 7], ["0e+00", "", "2e+09", "", "4e+09", "", "6e+09", ""],
        [2, 4, 6, 8, 10, 12, 14, 16], ["2", "4", "6", "8", "10", "12", "14", "16"],
        "Arms_exports", "Health_expenditure_total", (2790, 2377), (2224, 1861))

x, y = xy(g_points)
r_panel((713, 1622, 2774, 3590), (745, 0, 1585.5, 50000, 3544, 2, 2800, 16), x, y,
        [0, 10000, 20000, 30000, 40000, 50000], ["0", "10000", "20000", "30000", "40000", "50000"],
        [2, 4, 6, 8, 10, 12, 14, 16], ["2", "4", "6", "8", "10", "12", "14", "16"],
        "Colon_and_Rectum_cancer_number_of_male_deaths", "Health_expenditure_total", (1167, 3697), (599, 3182))

x, y = xy(h_points)
r_panel((1840, 2749, 2774, 3590), (1872, 0, 2572, 4, 3402, 2, 2836, 8), x, y,
        [0, 1, 2, 3, 4], ["0e+00", "1e+07", "2e+07", "3e+07", "4e+07"],
        [2, 4, 6, 8], ["2", "4", "6", "8"],
        "Broadband_subscribers", "Health_expenditure_private", (2293, 3697), (1724, 3182))

x, y = xy(i_points)
r_panel((703, 1610, 3996, 4810), (735, 0, 1485.5, 6, 4790, 0, 4040, 12000), x, y,
        [0, 1, 2, 3, 4, 5, 6], ["0", "1", "2", "3", "4", "5", "6"],
        [0, 2000, 4000, 6000, 8000, 10000, 12000], ["0", "2000", "4000", "6000", "8000", "", "12000"],
        "Hydroelectricity_consumption_per_person", "Energy_use", (1156, 4919), (586, 4403))

x, y = xy(j_points)
r_panel((1828, 2737, 3996, 4810), (1875.6, 0, 2622, 300, 4746, 0, 4054, 300), x, y,
        [0, 50, 100, 150, 200, 250, 300], ["0", "50", "100", "150", "200", "250", "300"],
        [0, 50, 100, 150, 200, 250, 300], ["0", "50", "100", "150", "200", "250", "300"],
        "Foreign_direct_investment_net_outflows", "Foreign_direct_investment_net_inflows", (2284, 4919), (1716, 4403))

captions = [("A", 560, 1161), ("B", 1632, 1215), ("C", 2757, 1215), ("D", 560, 2478), ("E", 1631, 2533),
            ("F", 2757, 2533), ("G", 1134, 3856), ("H", 2258, 3856), ("I", 1123, 5076), ("J", 2249, 5076)]
renderer = fig.canvas.get_renderer()
for letter, px, py in captions:
    base = 1 - (py + 18) / H
    t = fig.text(px / W, base, letter, ha='center', va='baseline', fontsize=50,
                 family='Liberation Serif', fontweight='bold')
    half = t.get_window_extent(renderer).width / 2 + 6
    fig.text((px - half) / W, base, "(", ha='right', va='baseline', fontsize=50, family='Liberation Serif')
    fig.text((px + half) / W, base, ")", ha='left', va='baseline', fontsize=50, family='Liberation Serif')

fig.savefig("out.png", dpi=100, facecolor='white')
